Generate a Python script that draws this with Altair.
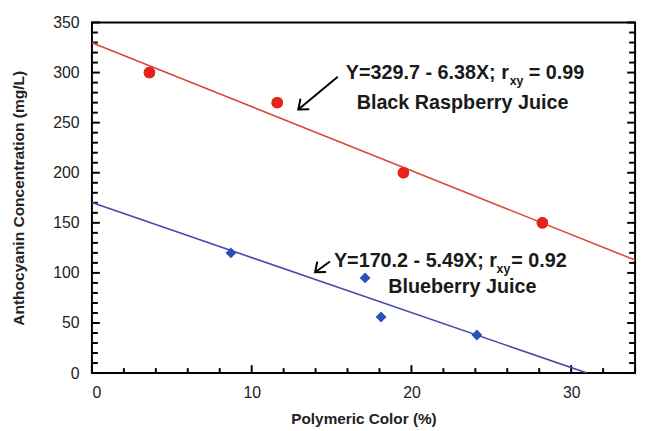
import altair as alt
import pandas as pd

# ---- data ----
rasp_x = [3.6, 11.6, 19.5, 28.2]
rasp_y = [300, 270, 200, 150]
blue_x = [8.7, 17.1, 18.1, 24.1]
blue_y = [120, 95, 56, 38]

# regression line end points (Y=329.7-6.38X and Y=170.2-5.49X)
rasp_line_x = [0, 34]
rasp_line_y = [329.7, 112.8]
blue_line_x = [0, 31.0]
blue_line_y = [170.2, 0]

y_major = list(range(0, 351, 50))
y_minor = [v for v in range(0, 351, 10) if v % 50 != 0]
x_major = [0, 10, 20, 30]
x_minor = [v for v in range(0, 35, 2) if v % 10 != 0]

# annotations
main_text = ["Y=329.7 - 6.38X; r", "= 0.99", "Black Raspberry Juice",
             "Y=170.2 - 5.49X; r", "= 0.92", "Blueberry Juice"]
main_x = [15.89, 27.35, 16.57, 15.15, 26.25, 18.55]
main_y = [300.0, 300.0, 269.5, 111.4, 111.4, 85.8]
sub_text = ["xy", "xy"]
sub_x = [26.15, 25.33]
sub_y = [291.4, 103.5]
arrow_x = [15.39, 14.90]
arrow_y = [295.8, 111.4]
arrow_tip_x = [12.92, 13.97]
arrow_tip_y = [263.2, 100.6]

W, H = 550, 355
XS = alt.Scale(domain=[0, 34], nice=False, zero=False)
YS = alt.Scale(domain=[0, 350], nice=False)
FONT = "Liberation Sans"

AX = alt.Axis(values=x_major, title="Polymeric Color (%)", tickSize=0, domain=False,
              grid=False, labelPadding=12, labelFontSize=16, labelFont=FONT,
              labelColor="#222", titleFont=FONT, titleFontSize=15.5, titleFontWeight="bold",
              titleColor="#222", titleBaseline="middle", titleY=46, titleX=W / 2)
AY = alt.Axis(values=y_major, title="Anthocyanin Concentration (mg/L)", tickSize=0,
              domain=False, grid=False, labelPadding=13, labelFontSize=16,
              labelFont=FONT, labelColor="#222", titleFont=FONT, titleFontSize=15.7,
              titleFontWeight="bold", titleColor="#222", titleAngle=270,
              titleBaseline="middle", titleAlign="center", titleX=-74, titleY=H / 2)

def X(f):
    return alt.X(f, scale=XS, axis=AX)

def Y(f):
    return alt.Y(f, scale=YS, axis=AY)

rasp = pd.DataFrame({"x": rasp_x, "y": rasp_y})
blue = pd.DataFrame({"x": blue_x, "y": blue_y})
rl = pd.DataFrame({"x": rasp_line_x, "y": rasp_line_y})
bl = pd.DataFrame({"x": blue_line_x, "y": blue_line_y})

red_pts = alt.Chart(rasp).mark_point(shape="circle", filled=True, size=135, color="#e8231e",
                                     opacity=1).encode(x=X("x:Q"), y=Y("y:Q"))
red_line = alt.Chart(rl).mark_line(color="#d84a3c", strokeWidth=1.6, clip=True).encode(
    x=X("x:Q"), y=Y("y:Q"))
blue_line = alt.Chart(bl).mark_line(color="#4848a8", strokeWidth=1.6, clip=True).encode(
    x=X("x:Q"), y=Y("y:Q"))
blue_pts = alt.Chart(blue).mark_point(shape="diamond", filled=True, size=120, color="#2a4fb8",
                                      opacity=1).encode(x=X("x:Q"), y=Y("y:Q"))

def yticks(vals, length):
    d = pd.DataFrame({"x": vals})
    left = alt.Chart(d).mark_rule(color="black", strokeWidth=2).encode(
        y=Y("x:Q"), x=alt.value(0), x2=alt.value(length))
    right = alt.Chart(d).mark_rule(color="black", strokeWidth=2).encode(
        y=Y("x:Q"), x=alt.value(W), x2=alt.value(W - length))
    return [left, right]

def xticks(vals, length):
    d = pd.DataFrame({"x": vals})
    return alt.Chart(d).mark_rule(color="black", strokeWidth=2).encode(
        x=X("x:Q"), y=alt.value(H), y2=alt.value(H - length))

ann = pd.DataFrame({"x": main_x, "y": main_y, "t": main_text})
sub = pd.DataFrame({"x": sub_x, "y": sub_y, "t": sub_text})
texts = alt.Chart(ann).mark_text(align="left", baseline="middle", font=FONT, fontSize=20,
                                 fontWeight="bold", color="#1a1a1a").encode(
    x=X("x:Q"), y=Y("y:Q"), text="t:N")
subs = alt.Chart(sub).mark_text(align="left", baseline="middle", font=FONT, fontSize=12.5,
                                fontWeight="bold", color="#1a1a1a").encode(
    x=X("x:Q"), y=Y("y:Q"), text="t:N")

arr = pd.DataFrame({"x": arrow_x, "y": arrow_y, "x2": arrow_tip_x, "y2": arrow_tip_y})
shafts = alt.Chart(arr).mark_rule(color="black", strokeWidth=2).encode(
    x=X("x:Q"), y=Y("y:Q"), x2="x2:Q", y2="y2:Q")
arr2 = pd.DataFrame({"x": arrow_tip_x, "y": arrow_tip_y})
heads = alt.Chart(arr2).mark_point(shape="M -1 -0.8 L 0 0 L -1 0.8", filled=False, size=300,
                                   color="black", strokeWidth=2, angle=140, opacity=1).encode(
    x=X("x:Q"), y=Y("y:Q"))

chart = alt.layer(
    red_pts, *yticks(y_minor, 6), *yticks(y_major, 8), xticks(x_minor, 5), xticks(x_major, 8),
    red_line, blue_line, blue_pts, shafts, heads, texts, subs, red_pts
).properties(
    width=W, height=H,
    autosize=alt.AutoSizeParams(type="none"),
    padding={"left": 85, "top": 12, "right": 5, "bottom": 58},
    background="white",
).configure_view(stroke="black", strokeWidth=2)

chart.save("out.html", embed_options={"renderer": "svg", "actions": False})
